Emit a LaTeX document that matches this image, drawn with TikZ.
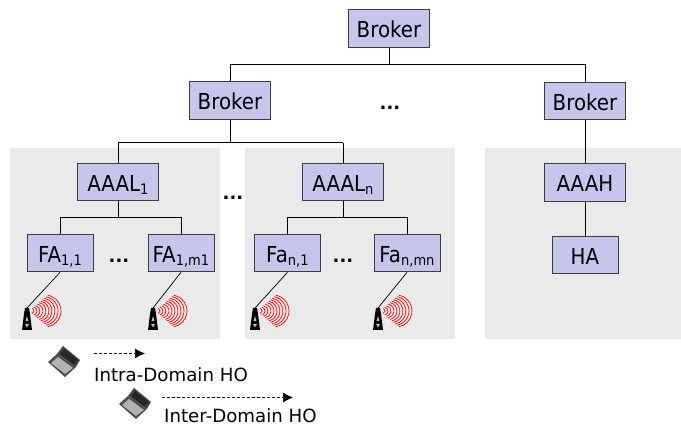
\documentclass[tikz,border=0pt]{standalone}
\usepackage{fontspec}
\setmainfont{DejaVu Sans}[FakeStretch=0.9]
\newfontfamily\lblfont{DejaVu Sans}
\usetikzlibrary{arrows.meta}
\definecolor{boxfill}{RGB}{198,198,236}
\definecolor{boxline}{RGB}{60,60,60}
\definecolor{panel}{RGB}{234,234,234}
\newcommand{\sbs}[1]{\raisebox{-3.5pt}{\fontsize{14.5}{16}\selectfont #1}}
\tikzset{
  x=1pt,y=-1pt,
  box/.style={draw=boxline,fill=boxfill,line width=0.9pt,minimum height=37.5pt,inner sep=0pt,text height=18pt,text depth=0pt,font=\fontsize{22}{24}\selectfont,anchor=north west},
  wire/.style={draw=black,line width=0.9pt},
  thinwire/.style={draw=black,line width=0.7pt},
  panelbox/.style={fill=panel,draw=none},
  dots/.style={font=\lblfont\bfseries\fontsize{18}{20}\selectfont,inner sep=0pt},
  lbl/.style={font=\lblfont\fontsize{18.2}{20}\selectfont,anchor=base west,inner sep=0pt},
  moved/.style={draw=black,line width=0.7pt,dash pattern=on 3pt off 2pt,-{Latex[length=10pt,width=10pt]}},
}
\newcommand{\towerat}[2]{%
  \begin{scope}[shift={(#1,#2)}]
    \foreach \r in {5,8,11,14,17,20,23,26,29,32}{
      \draw[red,line width=0.7pt] ({2+0.5*\r+0.5*\r*cos(80)},{3-0.5*\r*sin(80)}) arc[start angle=-80,end angle=80,radius=0.5*\r];
    }
    \fill[black] (-2,0) -- (2,0) -- (3,6) -- (5,22) -- (-5,22) -- (-3,6) -- cycle;
    \fill[gray!50] (0,8) -- (1.4,13) -- (-1.4,13) -- cycle;
    \fill[gray!50] (-2,16) -- (2,16) -- (0,19.5) -- cycle;
  \end{scope}}
\newcommand{\laptopat}[2]{%
  \begin{scope}[shift={(#1,#2)}]
    \fill[gray!60!black] (-17,0) -- (-8,-8) -- (11,5) -- (0,15) -- cycle;
    \fill[gray!60] (-14,1) -- (-7,-5) -- (8,6) -- (0,12) -- cycle;
    \fill[gray!55!black] (-8,-8) -- (-2,-16) -- (15,-2) -- (11,5) -- cycle;
    \fill[black!85] (-5,-8) -- (-1,-13) -- (13,-2) -- (9,3) -- cycle;
  \end{scope}}
\begin{document}
\begin{tikzpicture}
\useasboundingbox (0,0) rectangle (681,427);
\fill[white] (0,0) rectangle (681,427);
\fill[panelbox] (10,148) rectangle (220,339);
\fill[panelbox] (245,148) rectangle (455,339);
\fill[panelbox] (485,148) rectangle (681,339);
\node[box,minimum width=81pt] (b0) at (348,9.5) {Broker};
\node[box,minimum width=81pt] (b1) at (189,81.5) {Broker};
\node[box,minimum width=81pt] (b2) at (544,82) {Broker};
\node[box,minimum width=81pt] (l1) at (77,163) {AAAL\sbs{1}};
\node[box,minimum width=81pt] (ln) at (302,163) {AAAL\sbs{n}};
\node[box,minimum width=81pt] (h) at (544,163.5) {AAAH};
\node[box,minimum width=66pt] (ha) at (551.5,236) {HA};
\node[box,minimum width=66pt] (f11) at (26.5,234) {FA\sbs{1,1}};
\node[box,minimum width=66pt] (f1m) at (147.5,234) {FA\sbs{1,m1}};
\node[box,minimum width=66pt] (fn1) at (254,234) {Fa\sbs{n,1}};
\node[box,minimum width=66pt] (fnm) at (373.5,234) {Fa\sbs{n,mn}};
\node[dots] (d1) at (390,108) {...};
\node[dots] (d2) at (233,198) {...};
\node[dots] (d3) at (119,261) {...};
\node[dots] (d4) at (343,261) {...};
\draw[wire] (b0.south) -- ++(0,17) coordinate (t0);
\draw[wire] (b1.north) |- (t0) -| (b2.north);
\draw[wire] (b1.south) -- ++(0,23) coordinate (t1);
\draw[wire] (t1 -| l1.north) -- (t1 -| ln.north);
\draw[wire] (t1 -| l1.north) -- (l1.north);
\draw[wire] (t1 -| ln.north) -- (ln.north);
\draw[wire] (l1.south) -- ++(0,16) coordinate (t2);
\draw[wire] (f11.north) |- (t2) -| (f1m.north);
\draw[wire] (ln.south) -- ++(0,16) coordinate (t3);
\draw[wire] (fn1.north) |- (t3) -| (fnm.north);
\draw[wire] (b2.south) -- (h.north);
\draw[wire] (h.south) -- (ha.north);
\towerat{27}{308}
\towerat{153}{308}
\towerat{255}{308}
\towerat{378}{308}
\coordinate (a1) at (27,308); \draw[thinwire] (f11.south) -- (a1);
\coordinate (a2) at (153,308); \draw[thinwire] (f1m.south) -- (a2);
\coordinate (a3) at (255,308); \draw[thinwire] (fn1.south) -- (a3);
\coordinate (a4) at (378,308); \draw[thinwire] (fnm.south) -- (a4);
\laptopat{65}{362}
\laptopat{136}{404}
\coordinate (m1) at (94,353.5); \coordinate (m2) at (145,353.5);
\coordinate (m3) at (162,397.5); \coordinate (m4) at (293,397.5);
\draw[moved] (m1) -- (m2);
\draw[moved] (m3) -- (m4);
\node[lbl] (t1a) at (94,382) {Intra-Domain HO};
\node[lbl] (t2a) at (164,423) {Inter-Domain HO};
\end{tikzpicture}
\end{document}
